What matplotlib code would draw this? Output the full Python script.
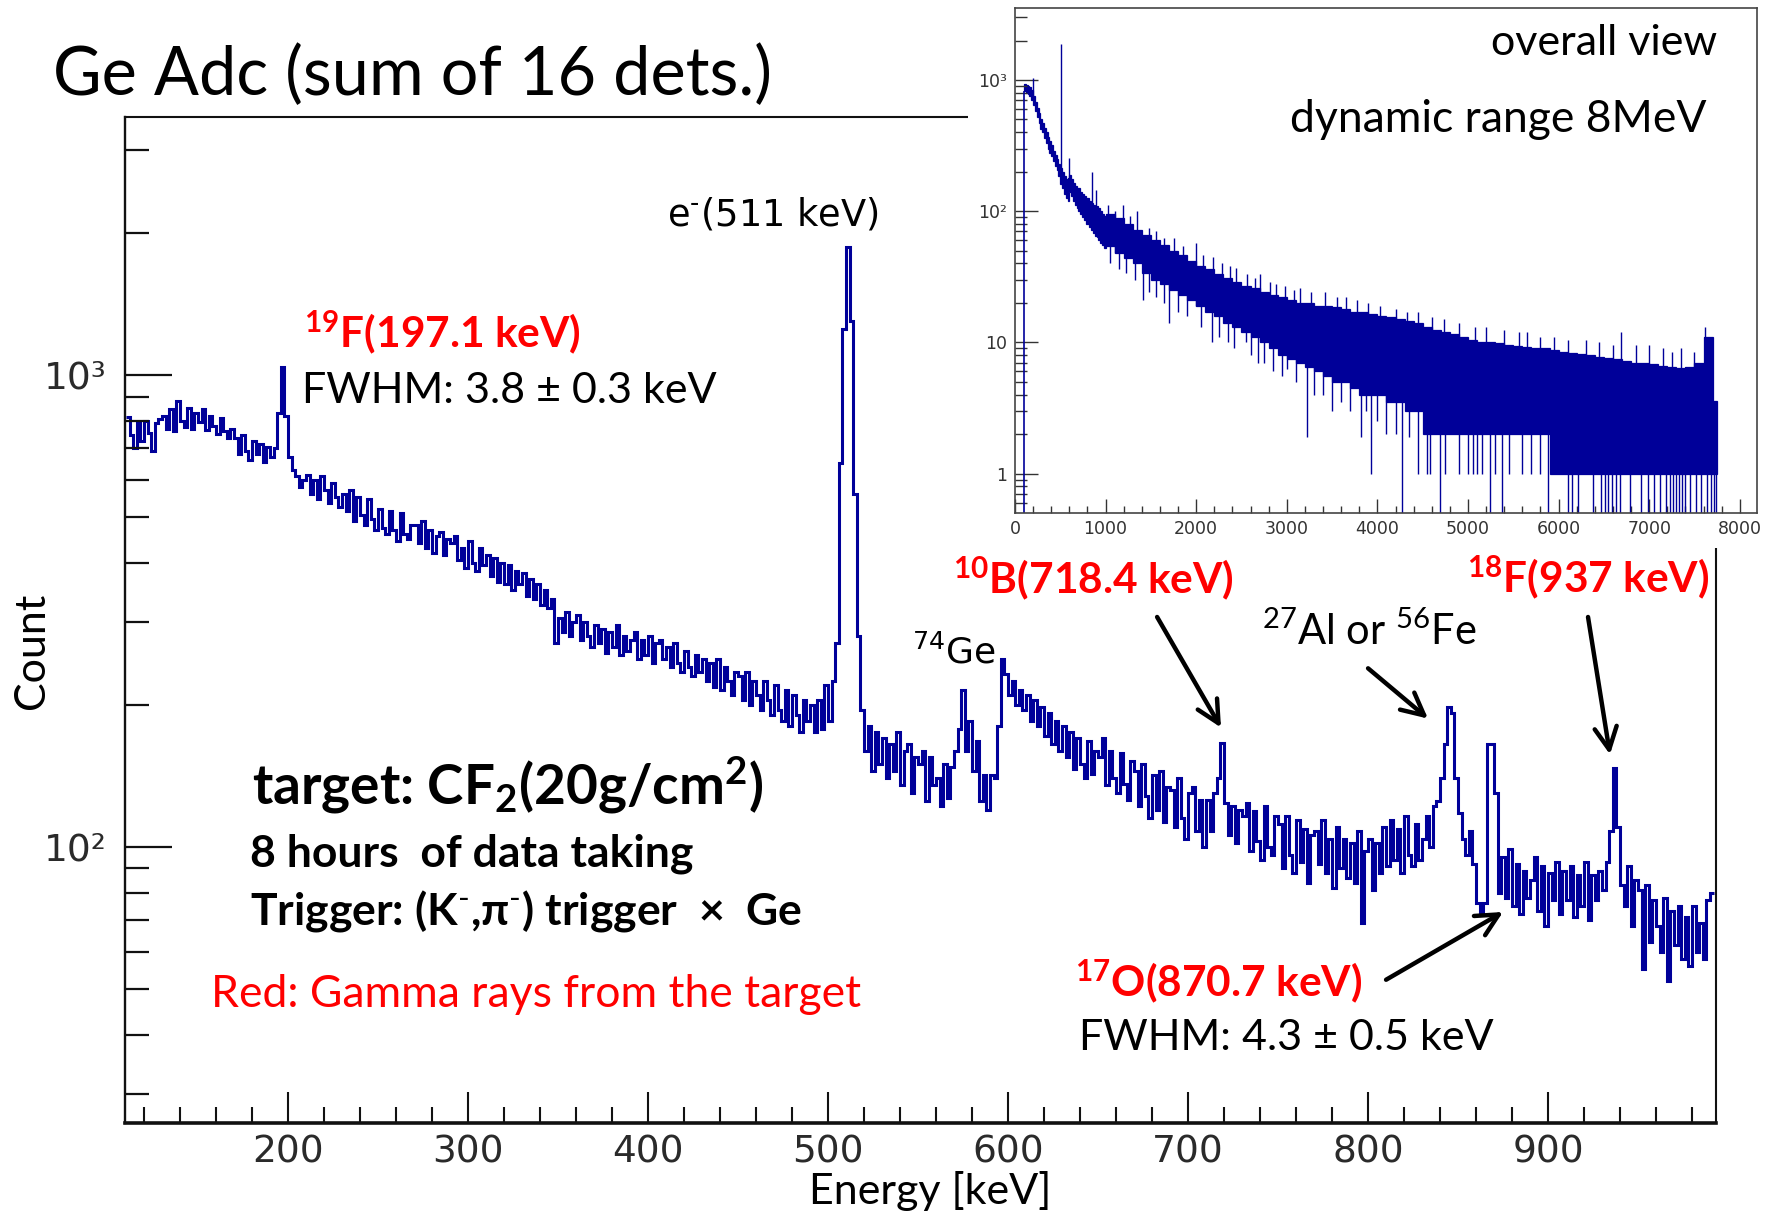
import numpy as np
import matplotlib
matplotlib.use("Agg")
import matplotlib.pyplot as plt
from matplotlib.patches import Rectangle, FancyArrowPatch
from matplotlib.ticker import FixedLocator, NullFormatter

W, H = 1768, 1212

# ---- main spectrum: Ge ADC sum, 2 keV bins starting at 110 keV ----
bin_start, bin_width = 110, 2
counts = [
    815, 745, 700, 790, 725, 800, 755, 690, 790, 805,    # 110
    820, 770, 845, 760, 880, 800, 775, 850, 770, 830,    # 130
    795, 845, 765, 820, 780, 750, 810, 760, 735, 770,    # 150
    735, 680, 745, 690, 660, 725, 680, 715, 655, 705,    # 170
    670, 700, 830, 1040, 820, 670, 630, 610, 580, 600,   # 190
    615, 560, 600, 545, 610, 570, 535, 590, 550, 525,    # 210
    560, 515, 570, 490, 550, 505, 480, 545, 495, 470,    # 230
    520, 475, 460, 515, 470, 445, 510, 460, 450, 480,    # 250
    480, 440, 490, 430, 470, 420, 455, 465, 415, 450,    # 270
    440, 455, 405, 430, 390, 445, 400, 385, 430, 395,    # 290
    415, 375, 410, 365, 400, 360, 395, 350, 385, 360,    # 310
    380, 340, 370, 335, 360, 325, 350, 320, 335, 270,    # 330
    305, 285, 315, 280, 300, 310, 275, 300, 280, 265,    # 350
    295, 270, 290, 258, 285, 265, 295, 255, 280, 260,    # 370
    275, 285, 250, 275, 255, 280, 245, 270, 275, 250,    # 390
    265, 240, 270, 245, 235, 260, 240, 230, 255, 235,    # 410
    250, 225, 245, 218, 250, 215, 240, 225, 210, 235,    # 430
    230, 205, 235, 200, 225, 210, 195, 225, 205, 190,    # 450
    220, 195, 185, 215, 180, 210, 190, 175, 205, 185,    # 470
    200, 175, 205, 178, 220, 185, 225, 270, 650, 1250,   # 490
    1870, 1300, 560, 280, 195, 160, 180, 145, 175, 150,  # 510
    170, 140, 165, 145, 175, 135, 160, 165, 130, 155,    # 530
    150, 160, 125, 155, 135, 140, 122, 150, 127, 148,    # 550
    160, 178, 215, 160, 185, 145, 168, 125, 142, 120,    # 570
    142, 140, 180, 250, 232, 210, 225, 200, 215, 195,    # 590
    210, 185, 205, 180, 198, 172, 192, 165, 185, 160,    # 610
    180, 155, 175, 146, 170, 150, 140, 168, 143, 160,    # 630
    155, 170, 135, 160, 140, 130, 158, 136, 126, 152,    # 650
    145, 122, 150, 128, 115, 142, 120, 145, 113, 134,    # 670
    132, 110, 140, 115, 104, 130, 134, 108, 126, 100,    # 690
    126, 108, 130, 140, 166, 124, 106, 122, 102, 120,    # 710
    116, 124, 98, 119, 103, 94, 122, 100, 96, 116,       # 730
    112, 90, 116, 96, 88, 114, 93, 109, 84, 106,         # 750
    108, 92, 114, 88, 104, 82, 110, 90, 104, 86,         # 770
    102, 84, 108, 69, 98, 104, 81, 102, 88, 110,         # 790
    91, 114, 94, 109, 88, 116, 96, 91, 112, 94,          # 810
    104, 116, 100, 122, 125, 140, 165, 198, 192, 140,    # 830
    118, 104, 96, 108, 92, 76, 72, 76, 165, 165,         # 850
    130, 80, 95, 78, 99, 75, 92, 72, 89, 78,             # 870
    85, 95, 73, 91, 68, 88, 77, 93, 72, 89,              # 890
    77, 91, 71, 87, 75, 93, 70, 87, 77, 89,              # 910
    81, 93, 108, 147, 110, 83, 75, 91, 68, 85,           # 930
    81, 55, 83, 63, 77, 68, 60, 78, 52, 73,              # 950
    62, 75, 58, 71, 56, 75, 60, 69, 58, 77,              # 970
    80,                                                  # 990
]
edges = bin_start + bin_width * np.arange(len(counts) + 1)

x_major = [200, 300, 400, 500, 600, 700, 800, 900]
y_major = [100, 1000]
y_major_labels = ["10²", "10³"]

# ---- inset: overall view up to 8 MeV (band of the dense histogram) ----
ins_fine_edges = list(range(100, 1001, 20))
ins_fine_hi = [930, 910, 900, 880, 840,
               760, 680, 610, 560, 500,
               470, 430, 400, 370, 340,
               320, 290, 270, 250, 230,
               215, 200, 185, 175, 180,
               190, 175, 165, 155, 150,
               150, 140, 135, 130, 125,
               125, 120, 115, 112, 108,
               110, 105, 100, 96, 92]
ins_fine_lo = [820, 800, 780, 760, 700,
               640, 580, 520, 470, 420,
               400, 360, 330, 300, 280,
               265, 240, 220, 205, 185,
               160, 150, 135, 125, 120,
               140, 130, 120, 112, 105,
               100, 95, 90, 85, 80,
               80, 76, 72, 68, 65,
               64, 60, 57, 55, 52]
ins_coarse_edges = list(range(1000, 7701, 100)) + [7750]
ins_coarse_hi = [95, 88, 80, 72, 66, 60, 55, 50, 46, 42,
                 38, 36, 33, 31, 29, 27, 26, 24, 23, 22,
                 21, 20, 20, 19, 19, 18.5, 18, 17, 17, 16.5,
                 16, 15.5, 15, 14.5, 14, 13, 12.5, 12, 11.5, 11,
                 10.5, 10, 10, 9.8, 9.6, 9.4, 9.2, 9, 9, 8.8,
                 8.5, 8.3, 8.2, 8, 7.8, 7.6, 7.4, 7.2, 7, 7,
                 6.8, 6.6, 6.5, 6.4, 6.5, 7, 11, 3.6]
ins_coarse_lo = [54, 48, 44, 40, 34, 30, 28, 25, 23, 21,
                 19, 17, 16, 14, 13, 12, 11, 10, 9, 8,
                 7.5, 7, 6.5, 6, 5.5, 5, 5, 4.5, 4, 4,
                 4, 3.5, 3.5, 3, 3, 2, 2, 2, 2, 2,
                 2, 2, 2, 2, 2, 2, 2, 2, 2, 1,
                 1, 1, 1, 1, 1, 1, 1, 1, 1, 1,
                 1, 1, 1, 1, 1, 1, 1, 1]
ins_up_E = [197, 511, 600, 845, 893, 1025, 1100, 1190, 1270, 1345, 1480, 1560,
            1650, 1760, 1850, 2000, 2080, 2180, 2280, 2370, 2440, 2560, 2650,
            2700, 2820, 2880, 2980, 3080, 3150, 3270, 3420, 3550, 3650, 3780,
            3900, 4025, 4200, 4330, 4450, 4600, 4740, 4900, 5080, 5200, 5400,
            5560, 5655, 5800, 5950, 6100, 6300, 6450, 6600, 6690, 6850, 7000,
            7150, 7250, 7350, 7500, 7620]
ins_up_top = [1040, 1880, 254, 199, 145, 111, 100, 111, 92, 100, 75, 70,
              62, 62, 54, 57, 46, 45, 40, 38, 37, 33, 31,
              33, 29, 28, 27, 25, 26, 24, 24, 22, 22, 21,
              20, 19, 18, 17, 17, 15.5, 15, 14, 13, 13, 12.5,
              12, 12, 11, 11, 10.5, 10.5, 10, 9.5, 12, 9.5, 9.5,
              9, 8.5, 9, 8.5, 13]
ins_dip_E = [1050, 1150, 1230, 1320, 1410, 1480, 1560, 1640, 1700, 1800, 1900,
             2050, 2170, 2250, 2350, 2420, 2545, 2600, 2680, 2750, 2850, 2950,
             3000, 3100, 3220, 3300, 3400, 3500, 3600, 3700, 3815, 3870, 3925,
             4000, 4100, 4200, 4350, 4450, 4550, 4580, 4750, 4900, 5000, 5050,
             5100, 5150, 5300, 5450, 5600, 5700, 5800]
ins_dip_bot = [40, 36, 34, 30, 21, 24, 22, 20, 14, 17, 16,
               13, 10, 11, 10, 9, 10, 8, 7, 7, 6, 5.5,
               6.3, 5, 1.9, 4, 4, 3, 3.5, 3, 1.9, 3, 1,
               2.5, 2, 2, 1.9, 1, 1, 1, 1, 1, 1, 1,
               1, 1, 1, 1, 1, 1, 1]
ins_zero_E = [4267, 4686, 5248, 5370, 5888, 6108, 6150, 6218, 6384, 6472, 6510,
              6549, 6590, 6630, 6680, 6790, 6913, 6987, 7050, 7120, 7190, 7230,
              7260, 7300, 7330, 7365, 7398, 7450, 7520, 7575, 7640, 7680, 7710, 7740]

blue = "#000099"
red = "#ff0000"
root_font = "DejaVu Sans"

plt.rcParams["mathtext.fontset"] = "custom"
plt.rcParams["mathtext.rm"] = "Lato"
plt.rcParams["mathtext.bf"] = "Lato:bold"
plt.rcParams["mathtext.it"] = "Lato:italic"
plt.rcParams["mathtext.sf"] = "Lato"

fig = plt.figure(figsize=(W / 100, H / 100), dpi=100)
fig.patch.set_facecolor("white")


def fx(x):
    return x / W


def fy(y):
    return 1 - y / H


def ftext(x, y, s, **kw):
    kw.setdefault("va", "baseline")
    return fig.text(fx(x), fy(y), s, **kw)


# ---- main axes ----
ax = fig.add_axes([fx(125), fy(1123), fx(1716) - fx(125), fy(117) - fy(1123)])
ax.stairs(counts, edges, color=blue, lw=2.2, baseline=None)
ax.set_yscale("log")
ax.set_xlim(109.4, 993.3)
ax.set_ylim(26, 3520)

ax.xaxis.set_major_locator(FixedLocator(x_major))
ax.xaxis.set_minor_locator(FixedLocator(np.arange(120, 992, 20)))
ax.yaxis.set_major_locator(FixedLocator(y_major))
ax.yaxis.set_minor_locator(FixedLocator([30, 40, 50, 60, 70, 80, 90,
                                         200, 300, 400, 500, 600, 700, 800, 900, 2000, 3000]))
ax.yaxis.set_minor_formatter(NullFormatter())
ax.set_yticklabels(y_major_labels)
ax.tick_params(axis="both", which="both", direction="in", top=False, right=False,
               colors="#111111", labelcolor="#2a2a2a")
ax.tick_params(axis="y", which="major", length=34, width=1.6, pad=13, labelsize=27)
ax.tick_params(axis="y", which="minor", length=17, width=1.6)
ax.tick_params(axis="x", which="major", length=22, width=1.5, pad=8, labelsize=27)
ax.tick_params(axis="x", which="minor", length=11.5, width=1.5)
for lab in ax.get_xticklabels() + ax.get_yticklabels():
    lab.set_fontfamily(root_font)
for side, lw in [("left", 1.7), ("bottom", 2.6), ("top", 1.5), ("right", 1.5)]:
    ax.spines[side].set_linewidth(lw)
    ax.spines[side].set_color("#111111")

# arrows pointing at peaks (tips in data coordinates)
arrows = [((682.8, 307), (718.3, 179)),
          ((800.0, 239), (833.3, 187)),
          ((922.2, 307), (934.4, 157)),
          ((810.0, 52.3), (875.0, 72.8))]
for start, tip in arrows:
    ax.add_patch(FancyArrowPatch(start, tip, arrowstyle="->", lw=3.2, color="black",
                                 mutation_scale=40, shrinkA=0, shrinkB=0))

# ---- white canvas of the inset, covering the main frame ----
fig.add_artist(Rectangle((fx(968), fy(548)), 1 - fx(968), fy(0) - fy(548),
                         transform=fig.transFigure, facecolor="white",
                         edgecolor="none", zorder=1))

# ---- inset axes ----
ia = fig.add_axes([fx(1015), fy(513), fx(1757) - fx(1015), fy(8) - fy(513)], zorder=2)
ia.set_yscale("log")
ia.set_xlim(0, 8190)
ia.set_ylim(0.5, 3540)
ymin_ins = 0.5

ia.stairs(ins_fine_hi, ins_fine_edges, baseline=ins_fine_lo, fill=True,
          color=blue, lw=0)
ia.stairs(ins_fine_hi, ins_fine_edges, baseline=ins_fine_lo, color=blue, lw=0.9)
ia.stairs(ins_coarse_hi, ins_coarse_edges, baseline=ins_coarse_lo, fill=True,
          color=blue, lw=0)
ia.stairs(ins_coarse_hi, ins_coarse_edges, baseline=ins_coarse_lo, color=blue, lw=0.9)

all_edges = np.array(ins_fine_edges[:-1] + ins_coarse_edges)
all_lo = np.array(ins_fine_lo + ins_coarse_lo, dtype=float)
all_hi = np.array(ins_fine_hi + ins_coarse_hi, dtype=float)


def band_at(e, arr):
    idx = np.clip(np.searchsorted(all_edges, e, side="right") - 1, 0, len(arr) - 1)
    return arr[idx]


ia.vlines(ins_fine_edges[0], ymin_ins, ins_fine_lo[0], color=blue, lw=1.2)
ia.vlines(ins_up_E, band_at(np.array(ins_up_E), all_lo), ins_up_top, color=blue, lw=1.0)
ia.vlines(ins_dip_E, ins_dip_bot, band_at(np.array(ins_dip_E), all_hi), color=blue, lw=1.0)
ia.vlines(ins_zero_E, ymin_ins, band_at(np.array(ins_zero_E), all_hi), color=blue, lw=1.0)

ia.xaxis.set_major_locator(FixedLocator(np.arange(0, 8001, 1000)))
ia.xaxis.set_minor_locator(FixedLocator(np.arange(0, 8190, 200)))
ia.yaxis.set_major_locator(FixedLocator([1, 10, 100, 1000]))
ia.set_yticklabels(["1", "10", "10²", "10³"])
ins_minor = [0.6, 0.7, 0.8, 0.9] + [k * 10 ** d for d in range(0, 3) for k in range(2, 10)] + [2000, 3000]
ia.yaxis.set_minor_locator(FixedLocator(ins_minor))
ia.yaxis.set_minor_formatter(NullFormatter())
ia.tick_params(axis="both", which="both", direction="in", top=False, right=False,
               colors="#333333", labelcolor="#333333", width=1.0)
ia.tick_params(axis="y", which="major", length=16.5, pad=6, labelsize=12.5)
ia.tick_params(axis="y", which="minor", length=8.5)
ia.tick_params(axis="x", which="major", length=10, pad=5, labelsize=12.5)
ia.tick_params(axis="x", which="minor", length=5)
for lab in ia.get_xticklabels() + ia.get_yticklabels():
    lab.set_fontfamily(root_font)
for s in ia.spines.values():
    s.set_linewidth(1.2)
    s.set_color("#444444")

# ---- texts ----
ftext(53, 95, "Ge Adc (sum of 16 dets.)", family="Lato", fontsize=48, zorder=5)
ftext(1717, 55, "overall view", family="Lato", fontsize=31, ha="right", zorder=5)
ftext(1706, 132, "dynamic range 8MeV", family="Lato", fontsize=32, ha="right", zorder=5)

ftext(667, 226, r"e$^{\text{-}}$(511 keV)", family="DejaVu Sans",
      math_fontfamily="dejavusans", fontsize=26.5, zorder=5)
ftext(912, 663, "$^{74}$Ge", family="DejaVu Sans", math_fontfamily="dejavusans",
      fontsize=26, zorder=5)

ftext(304, 348, r"$^{\mathbf{19}}$F(197.1 keV)", family="Lato", weight="bold",
      fontsize=30.5, color=red, zorder=5)
ftext(302, 403, "FWHM: 3.8 ± 0.3 keV", family="Lato", fontsize=31, zorder=5)
ftext(953, 594, r"$^{\mathbf{10}}$B(718.4 keV)", family="Lato", weight="bold",
      fontsize=30.5, color=red, zorder=5)
ftext(1262, 645, "$^{27}$Al or $^{56}$Fe", family="Lato", fontsize=30, zorder=5)
ftext(1467, 593, r"$^{\mathbf{18}}$F(937 keV)", family="Lato", weight="bold",
      fontsize=30.5, color=red, zorder=5)
ftext(1075, 997, r"$^{\mathbf{17}}$O(870.7 keV)", family="Lato", weight="bold",
      fontsize=30.5, color=red, zorder=5)
ftext(1079, 1050, "FWHM: 4.3 ± 0.5 keV", family="Lato", fontsize=31, zorder=5)

ftext(252, 805, r"target: CF$_{\mathbf{2}}$(20g/cm$^{\mathbf{2}}$)", family="Lato",
      weight="bold", fontsize=39.5, zorder=5)
ftext(250, 867, "8 hours  of data taking", family="Lato", weight="bold", fontsize=32, zorder=5)
ftext(250, 925, r"Trigger: (K$^{\text{-}}$,π$^{\text{-}}$) trigger  ×  Ge", family="Lato",
      weight="bold", fontsize=32, zorder=5)
ftext(211, 1007, "Red: Gamma rays from the target", family="Lato", fontsize=32,
      color=red, zorder=5)

ftext(32, 651, "Count", family="Lato", fontsize=31, rotation=90, ha="center",
      va="center", zorder=5)
ftext(930, 1204, "Energy [keV]", family="Lato", fontsize=31, ha="center", zorder=5)

fig.savefig("out.png", dpi=100, facecolor="white")
